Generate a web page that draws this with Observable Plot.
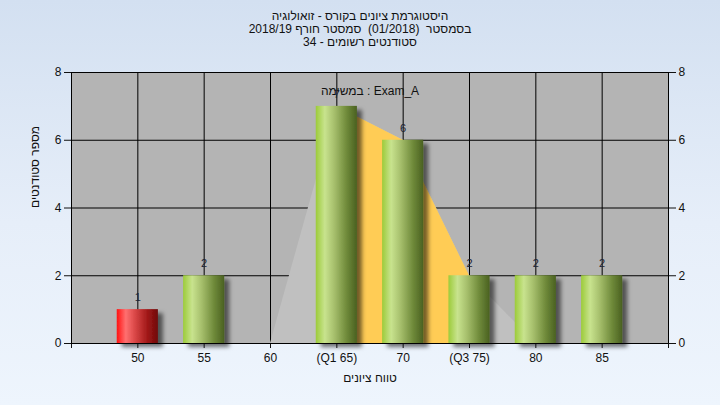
<!DOCTYPE html>
<html>
<head>
<meta charset="utf-8">
<script src="https://cdn.jsdelivr.net/npm/d3@7"></script>
<script src="https://cdn.jsdelivr.net/npm/@observablehq/plot@0.6"></script>
<style>
  html, body { margin: 0; padding: 0; }
  body {
    width: 720px; height: 405px; overflow: hidden;
    background: linear-gradient(to bottom, #d3e0f1 0%, #e6eef9 55%, #eef5fd 100%);
    font-family: "Liberation Sans", Arial, sans-serif;
  }
  #title {
    height: 40px; padding-top: 10px; text-align: center;
    font-size: 12px; line-height: 13px; color: #111;
  }
  #chart svg { display: block; }
</style>
</head>
<body>
<div id="title">
  <div>היסטוגרמת ציונים בקורס - זואולוגיה</div>
  <div>בסמסטר&nbsp; (01/2018)&nbsp; סמסטר חורף 2018/19</div>
  <div>סטודנטים רשומים - 34</div>
</div>
<div id="chart"></div>
<script>
// ---- data ----
const scores = [50, 55, 60, 65, 70, 75, 80, 85];
const counts = [1, 2, 0, 7, 6, 2, 2, 2];
const barKind = ["fail", "pass", "pass", "pass", "pass", "pass", "pass", "pass"];
const tickScores = [45, 50, 55, 60, 65, 70, 75, 80, 85, 90];
const tickLabels = ["", "50", "55", "60", "(Q1 65)", "70", "(Q3 75)", "80", "85", ""];
const yTicks = [0, 2, 4, 6, 8];
const polyScores = [60, 65, 70, 75, 80];
const polyValues = [0, 7, 6, 2, 0];
const q1 = 65, q3 = 75;
const annotation = "במשימה : Exam_A";
const yTitle = "מספר סטודנטים";
const xTitle = "טווח ציונים";

// ---- derived tables ----
const bars = scores.map((s, i) => ({score: s, count: counts[i], kind: barKind[i]}));
const poly = polyScores.map((s, i) => ({score: s, value: polyValues[i]}));
const iqr = poly.filter(d => d.score >= q1 && d.score <= q3);
const halfW = 1.55;
const labelOf = new Map(tickScores.map((s, i) => [s, tickLabels[i]]));

const svg = Plot.plot({
  width: 720,
  height: 355,
  marginTop: 22,
  marginBottom: 62,
  marginLeft: 71,
  marginRight: 52,
  style: {background: "transparent", fontFamily: "'Liberation Sans', Arial, sans-serif", fontSize: "12px", color: "#111", overflow: "visible"},
  x: {type: "linear", domain: [45, 90], axis: null},
  y: {domain: [0, 8], axis: null},
  marks: [
    Plot.frame({fill: "#b4b4b4", stroke: null}),
    Plot.gridY(yTicks, {stroke: "#000", strokeOpacity: 1, strokeWidth: 1}),
    Plot.gridX(scores, {stroke: "#000", strokeOpacity: 1, strokeWidth: 1}),
    Plot.areaY(poly, {x: "score", y: "value", fill: "#c0c0c0"}),
    Plot.areaY(iqr, {x: "score", y: "value", fill: "#ffcc55"}),
    Plot.rectY(bars.filter(d => d.kind === "pass" && d.count > 0), {
      x1: d => d.score - halfW, x2: d => d.score + halfW, y: "count",
      fill: "url(#gGreen)", className: "bar"
    }),
    Plot.rectY(bars.filter(d => d.kind === "fail" && d.count > 0), {
      x1: d => d.score - halfW, x2: d => d.score + halfW, y: "count",
      fill: "url(#gRed)", className: "bar"
    }),
    Plot.text(bars.filter(d => d.count > 0), {
      x: "score", y: "count", text: d => String(d.count),
      dy: -12, fontSize: 11, fill: "#1b2333"
    }),
    Plot.text([annotation], {frameAnchor: "top", dy: 14, fontSize: 12, fill: "#111"}),
    Plot.ruleX([45, 90], {stroke: "#000"}),
    Plot.axisY({anchor: "left", ticks: yTicks, tickSize: 7, tickPadding: 3, label: null, fontSize: 12, tickFormat: d => String(d)}),
    Plot.axisY({anchor: "right", ticks: yTicks, tickSize: 7, tickPadding: 3, label: null, fontSize: 12, tickFormat: d => String(d)}),
    Plot.axisX({ticks: tickScores, tickSize: 5, tickPadding: 5, label: null, fontSize: 12, tickFormat: d => labelOf.get(d)}),
    Plot.ruleY([0], {stroke: "#000"}),
    Plot.text([yTitle], {frameAnchor: "left", dx: -36, rotate: -90, fontSize: 12, fill: "#111"}),
    Plot.text([xTitle], {frameAnchor: "bottom", dy: 38, fontSize: 12, fill: "#111"})
  ]
});

// gradients and shadow
const s = d3.select(svg);
const defs = s.insert("defs", ":first-child");
function grad(id, stops) {
  const g = defs.append("linearGradient").attr("id", id).attr("x1", "0%").attr("x2", "100%").attr("y1", "0%").attr("y2", "0%");
  stops.forEach(([o, c]) => g.append("stop").attr("offset", o).attr("stop-color", c));
}
grad("gGreen", [["0%", "#9ccb3a"], ["22%", "#c8e38e"], ["45%", "#a6bf6c"], ["75%", "#6f8a3a"], ["100%", "#4a6121"]]);
grad("gRed", [["0%", "#ff1212"], ["22%", "#ff7070"], ["45%", "#d84646"], ["75%", "#a01818"], ["100%", "#6e0a0a"]]);
const f = defs.append("filter").attr("id", "shadow").attr("x", "-20%").attr("y", "-20%").attr("width", "150%").attr("height", "150%");
f.append("feDropShadow").attr("dx", 5).attr("dy", 4).attr("stdDeviation", 2).attr("flood-color", "#000").attr("flood-opacity", 0.55);
s.selectAll("g.bar rect, .bar rect").attr("filter", "url(#shadow)");
s.selectAll("g[aria-label='y-axis tick label'] text, g[aria-label='x-axis tick label'] text").attr("fill", "#111");

document.getElementById("chart").appendChild(svg);
</script>
</body>
</html>
